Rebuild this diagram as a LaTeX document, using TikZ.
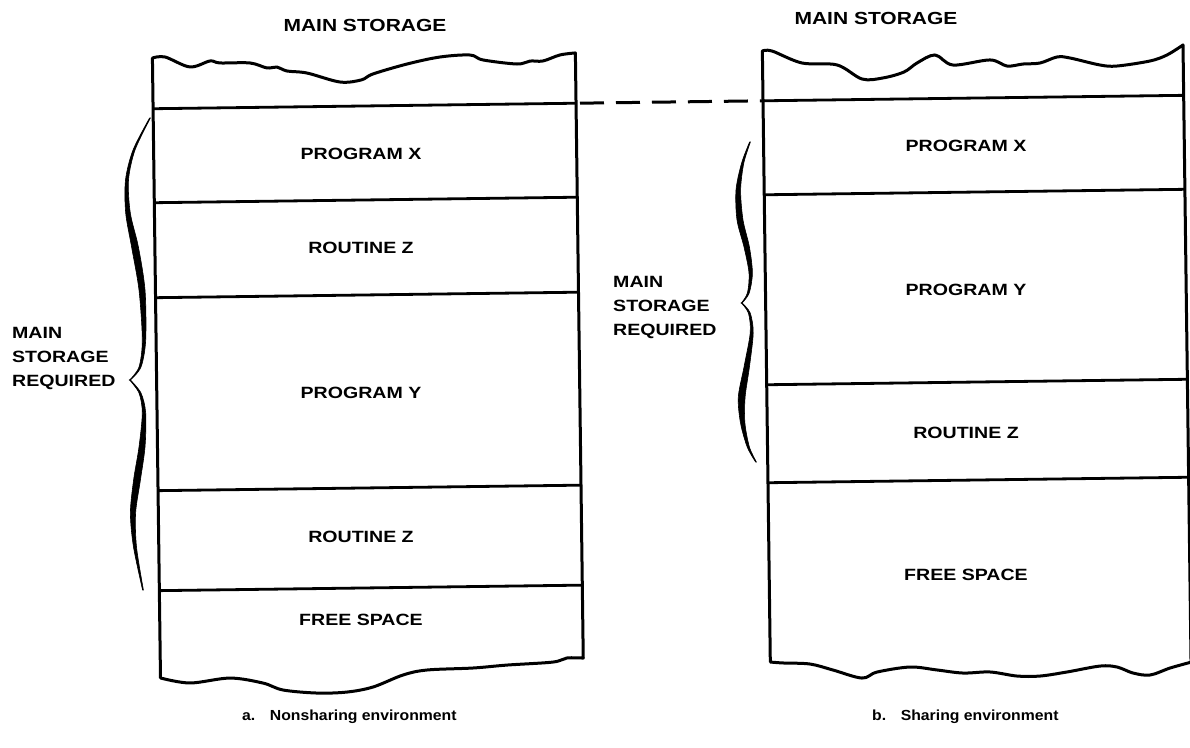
\documentclass[tikz,border=0pt]{standalone}
\usepackage{fontspec}
\setmainfont{Liberation Sans}
\newfontfamily\lblfont[FakeStretch=1.2]{Liberation Sans}
\newfontfamily\capfont[FakeStretch=1.08]{Liberation Sans}
\begin{document}
\begin{tikzpicture}[x=1pt,y=1pt,
  boxline/.style={line width=3pt, line join=round, line cap=round},
  sepline/.style={line width=2.8pt},
  dashline/.style={line width=3pt, dash pattern=on 24pt off 12pt, dash phase=-4pt},
  lbl/.style={font=\lblfont\bfseries\fontsize{16.3}{20}\selectfont, inner sep=0pt},
  side/.style={font=\lblfont\bfseries\fontsize{16.3}{24}\selectfont, align=left, inner sep=0pt},
  ttl/.style={font=\lblfont\bfseries\fontsize{17.5}{20}\selectfont, inner sep=0pt},
  capt/.style={font=\capfont\bfseries\fontsize{14.6}{18}\selectfont, inner sep=0pt},
  bracefill/.style={fill=black, draw=black, line width=0.6pt}]
\useasboundingbox (0,0) rectangle (1190,-747);

\begin{scope}[rotate around={0.745:(595,-370)}]
  % ---- left box (nonsharing) ----
  \draw[boxline] (156.5,-672.3) -- plot[smooth,tension=0.55] coordinates {
    (156.5,-52.3) (169.1,-51.4) (193.9,-61.7) (214.0,-56.0) (224.0,-58.1) (254.0,-58.5)
    (270.9,-63.7) (280.9,-62.9) (290.9,-67.0) (310.9,-69.3) (343.7,-78.7) (365.1,-76.9)
    (376.8,-71.1) (411.0,-61.6) (444.1,-55.0) (474.1,-53.4) (487.0,-58.5) (521.0,-63.0)
    (534.0,-60.2) (547.0,-60.3) (564.1,-54.5) (579.5,-52.7)}
    -- (579.5,-657.9) -- plot[smooth,tension=0.55] coordinates {
    (579.5,-657.9) (563.2,-657.6) (549.1,-661.5) (503.1,-663.9) (469.1,-666.4) (423.1,-667.8)
    (399.0,-672.5) (368.9,-684.1) (342.8,-688.8) (312.8,-689.4) (278.8,-685.9) (258.9,-678.7)
    (226.0,-673.3) (185.9,-677.7) (156.5,-672.3)};
  \coordinate (L1l) at (156.5,-103); \coordinate (L1r) at (579.5,-103);
  \coordinate (L2l) at (156.5,-197); \coordinate (L2r) at (579.5,-197);
  \coordinate (L3l) at (156.5,-292); \coordinate (L3r) at (579.5,-292);
  \coordinate (L4l) at (156.5,-485); \coordinate (L4r) at (579.5,-485);
  \coordinate (L5l) at (156.5,-585); \coordinate (L5r) at (579.5,-585);
  \foreach \i in {1,...,5} { \draw[sepline] (L\i l) -- (L\i r); }

  % ---- right box (sharing) ----
  \draw[boxline] (766.5,-664.3) -- plot[smooth,tension=0.55] coordinates {
    (766.5,-53.2) (776.1,-53.3) (806.0,-65.7) (841.0,-68.1) (865.8,-82.5) (886.8,-81.7)
    (907.9,-76.0) (921.0,-67.2) (939.1,-59.4) (957.0,-69.7) (994.0,-65.1) (1011.0,-71.4)
    (1027.0,-69.6) (1044.0,-68.8) (1061.1,-63.0) (1074.1,-64.2) (1104.0,-71.6) (1121.0,-72.8)
    (1154.0,-68.2) (1171.1,-62.4) (1187.2,-52.6)}
    -- (1187.2,-669.9) -- plot[smooth,tension=0.55] coordinates {
    (1187.2,-669.9) (1166.1,-675.5) (1146.1,-682.2) (1129.1,-680.0) (1113.2,-673.8)
    (1096.2,-672.6) (1063.1,-678.1) (1036.0,-681.8) (1013.0,-681.5) (986.1,-677.1)
    (959.1,-677.8) (933.1,-674.4) (906.1,-671.1) (873.1,-675.7) (857.9,-681.5)
    (829.1,-673.1) (806.2,-666.8) (779.2,-665.4) (766.5,-664.3)};
  \coordinate (R1l) at (766.5,-103); \coordinate (R1r) at (1187.2,-103);
  \coordinate (R2l) at (766.5,-197); \coordinate (R2r) at (1187.2,-197);
  \coordinate (R3l) at (766.5,-387); \coordinate (R3r) at (1187.2,-387);
  \coordinate (R4l) at (766.5,-485); \coordinate (R4r) at (1187.2,-485);
  \foreach \i in {1,...,4} { \draw[sepline] (R\i l) -- (R\i r); }

  % ---- dashed level line ----
  \draw[dashline] (L1r) -- (R1l);
\end{scope}

% ---- left brace ----
\fill[bracefill] plot[smooth] coordinates {
  (149.6,-118) (133,-150) (125.5,-180) (125.7,-213) (131.6,-247) (139,-290) (142.3,-340) (139,-367) (129.6,-380)}
  -- plot[smooth] coordinates {
  (130.4,-380) (141,-367) (145.7,-340) (145,-290) (138.4,-247) (130.3,-213) (128.5,-180) (135,-150) (150.4,-118)} -- cycle;
\fill[bracefill] plot[smooth] coordinates {
  (129.6,-380) (139,-393) (142.3,-413) (139,-447) (133.6,-480) (130.4,-513) (133.5,-547) (142.6,-590)}
  -- plot[smooth] coordinates {
  (143.4,-590) (136.5,-547) (135.6,-513) (140.4,-480) (145,-447) (145.7,-413) (141,-393) (130.4,-380)} -- cycle;

% ---- right brace ----
\fill[bracefill] plot[smooth] coordinates {
  (749.6,-142) (741.6,-163) (736,-190) (737,-220) (744,-247) (749,-273) (747.4,-293) (741.3,-303)}
  -- plot[smooth] coordinates {
  (742.1,-303) (749.2,-293) (752.4,-273) (749.4,-247) (743,-220) (740.6,-190) (743.8,-163) (750.4,-142)} -- cycle;
\fill[bracefill] plot[smooth] coordinates {
  (741.3,-303) (748.4,-313) (750.2,-333) (744,-367) (738.3,-397) (740.5,-423) (747.2,-447) (755.6,-462)}
  -- plot[smooth] coordinates {
  (756.4,-462) (749.4,-447) (744.9,-423) (745.1,-397) (749.4,-367) (753.2,-333) (750.2,-313) (742.1,-303)} -- cycle;

% ---- titles ----
\node[ttl, anchor=base] (titleL) at (365,-31) {MAIN STORAGE};
\node[ttl, anchor=base] (titleR) at (876,-24) {MAIN STORAGE};

% ---- left box labels ----
\node[lbl] (lpx) at (361,-154) {PROGRAM X};
\node[lbl] (lrz1) at (361,-248) {ROUTINE Z};
\node[lbl] (lpy) at (361,-393) {PROGRAM Y};
\node[lbl] (lrz2) at (361,-537) {ROUTINE Z};
\node[lbl] (lfs) at (361,-620) {FREE SPACE};

% ---- right box labels ----
\node[lbl] (rpx) at (966,-146) {PROGRAM X};
\node[lbl] (rpy) at (966,-290) {PROGRAM Y};
\node[lbl] (rrz) at (966,-433) {ROUTINE Z};
\node[lbl] (rfs) at (966,-575) {FREE SPACE};

% ---- side labels ----
\node[side, anchor=west] (reqL) at (12,-358) {MAIN\\STORAGE\\REQUIRED};
\node[side, anchor=west] (reqR) at (613,-307) {MAIN\\STORAGE\\REQUIRED};

% ---- captions ----
\node[capt, anchor=base west] (capA) at (242,-720) {a.\quad Nonsharing environment};
\node[capt, anchor=base west] (capB) at (872,-720) {b.\quad Sharing environment};
\end{tikzpicture}
\end{document}
